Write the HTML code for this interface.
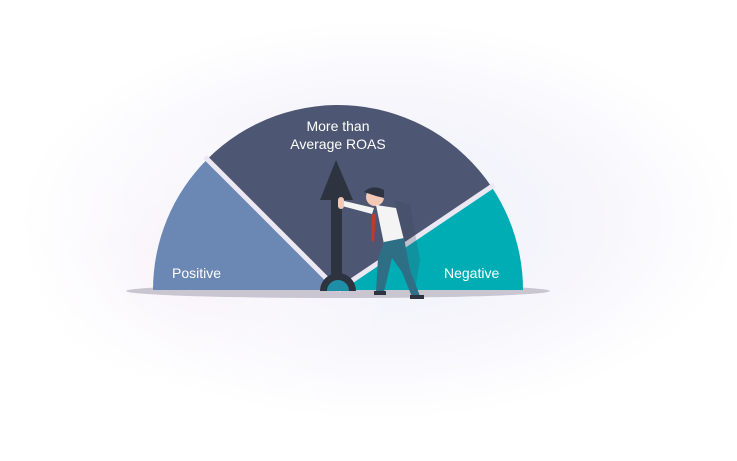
<!DOCTYPE html>
<html><head><style>
html,body{margin:0;padding:0;background:#fff;}
body{width:737px;height:456px;overflow:hidden;font-family:"Liberation Sans",sans-serif;}
</style></head><body>
<svg width="737" height="456" viewBox="0 0 737 456" xmlns="http://www.w3.org/2000/svg">
<defs>
<radialGradient id="g1" cx="0.5" cy="0.5" r="0.5">
<stop offset="0" stop-color="#eef0fa"/>
<stop offset="0.6" stop-color="#f7f6fc"/>
<stop offset="1" stop-color="#ffffff"/>
</radialGradient>
<radialGradient id="g2" cx="0.5" cy="0.5" r="0.5">
<stop offset="0" stop-color="#f8f2f9"/>
<stop offset="1" stop-color="#ffffff" stop-opacity="0"/>
</radialGradient>
</defs>
<ellipse cx="380" cy="220" rx="360" ry="200" fill="url(#g1)"/>
<ellipse cx="200" cy="260" rx="200" ry="150" fill="url(#g2)"/>
<ellipse cx="338" cy="291" rx="212" ry="7" fill="#c9c6d1"/>
<path d="M338,290 L207.2,159.2 A185,185 0 0 1 491.4,186.6 Z" fill="#4d5672"/>
<path d="M338,290 L153,290 A185,185 0 0 1 207.2,159.2 Z" fill="#6b87b3"/>
<path d="M338,290 L491.4,186.6 A185,185 0 0 1 523,290 Z" fill="#00adb4"/>
<line x1="338" y1="290" x2="205" y2="157" stroke="#ebe8f3" stroke-width="5"/>
<line x1="338" y1="290" x2="494" y2="185" stroke="#ebe8f3" stroke-width="5"/>
<path d="M331,290 L331,200 L320,200 L336,160 L353,200 L342,200 L342,290 Z" fill="#2d3440"/>
<path d="M320,291 A18,18 0 0 1 356,291 Z" fill="#2d3440"/>
<path d="M327,291 A11,11 0 0 1 349,291 Z" fill="#1f8fa8"/>
<path d="M395,200 L410,205 L420,260 L415,290 L405,280 Z" fill="#3f4860" opacity="0.25"/>
<circle cx="375" cy="197" r="9" fill="#f3c9b5"/>
<path d="M364,192 Q372,184 384,190 L384,198 L376,196 Z" fill="#2d3440"/>
<path d="M340,200 L374,208 L372,214 L342,206 Z" fill="#f4f4f4"/>
<rect x="338" y="197" width="6" height="12" rx="3" fill="#f3c9b5"/>
<path d="M376,205 L396,208 L404,240 L384,244 Z" fill="#f4f4f4"/>
<path d="M372,214 L376,214 L374,242 L371,240 Z" fill="#c0392b"/>
<path d="M384,242 L404,238 L410,270 L420,296 L412,297 L402,272 L392,258 L384,292 L376,292 L378,258 Z" fill="#2f6f85"/>
<rect x="374" y="291" width="12" height="4" fill="#2d3440"/>
<rect x="410" y="295" width="14" height="4" fill="#2d3440"/>
<g fill="#fff" font-size="14" font-family="Liberation Sans, sans-serif">
<text x="172" y="278">Positive</text>
<text x="444" y="278">Negative</text>
<text x="338" y="131" text-anchor="middle">More than</text>
<text x="338" y="149" text-anchor="middle">Average ROAS</text>
</g>
</svg>
</body></html>
